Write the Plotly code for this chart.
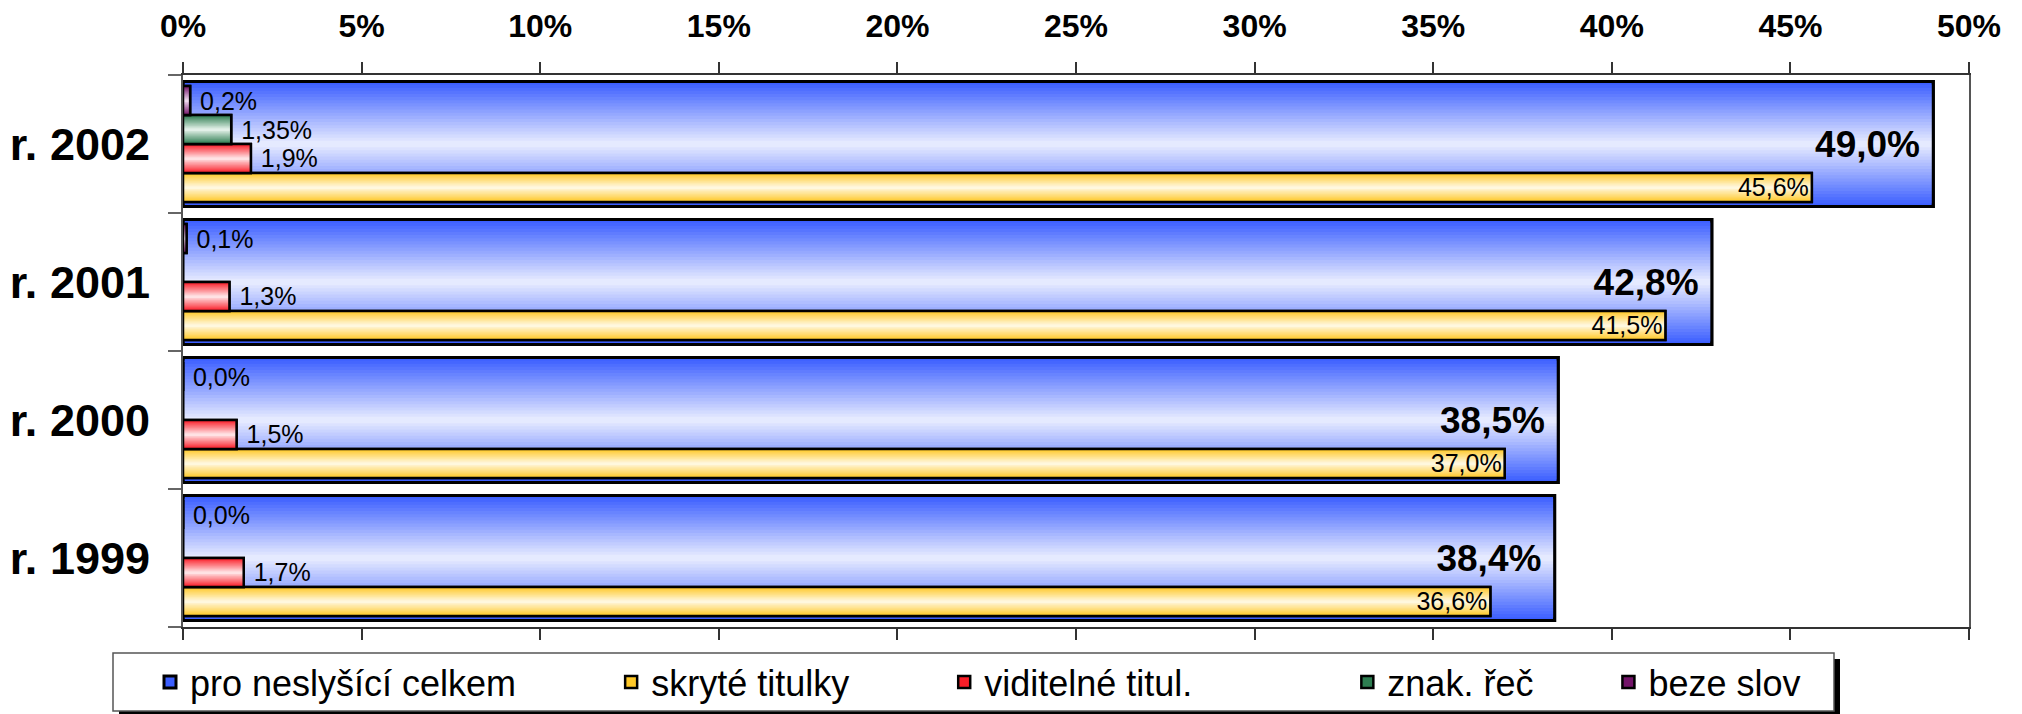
import plotly.graph_objects as go

# data (percent of broadcast time), top to bottom as in the chart
years = ["r. 2002", "r. 2001", "r. 2000", "r. 1999"]
celkem = [49.0, 42.8, 38.5, 38.4]        # pro neslyšící celkem
skryte = [45.6, 41.5, 37.0, 36.6]        # skryté titulky
viditelne = [1.9, 1.3, 1.5, 1.7]         # viditelné titul.
znak = [1.35, None, None, None]          # znak. řeč
beze = [0.2, 0.1, 0.0, 0.0]              # beze slov
x_ticks = [0, 5, 10, 15, 20, 25, 30, 35, 40, 45, 50]
x_labels = [f"{t}%" for t in x_ticks]

FONT = "Arial, Liberation Sans, sans-serif"
W, H = 2022, 714
L, R, T, B = 183, 53, 75, 87
PW, PH = W - L - R, H - T - B
NB = "\u00a0"


def pct(v):
    if v is None:
        return ""
    s = f"{v:.2f}"
    if s.endswith("0"):
        s = s[:-1]
    return s.replace(".", ",") + "%"


def mix(c1, c2, t):
    return "rgb(%d,%d,%d)" % tuple(round(a + (b - a) * t) for a, b in zip(c1, c2))


def px_x(p):
    return (p - L) / PW


def px_y(p):
    return (H - B - p) / PH


small_font = dict(family=FONT, size=25, color="black")

# name, values, edge colour, centre colour, offset, width, line width,
# text position, font, label prefix/suffix
series = [
    ("pro neslyšící celkem", celkem, (60, 95, 255), (238, 241, 255), -0.453, 0.906, 3,
     "inside", dict(family=FONT, size=37, color="black", weight="bold"), ("", NB)),
    ("skryté titulky", skryte, (255, 200, 40), (255, 250, 232), -0.42, 0.21, 2.5,
     "inside", small_font, ("", "")),
    ("viditelné titul.", viditelne, (250, 30, 40), (255, 236, 238), -0.21, 0.21, 2.5,
     "outside", small_font, (NB, "")),
    ("znak. řeč", znak, (45, 125, 80), (236, 246, 240), 0.0, 0.21, 2.5,
     "outside", small_font, (NB, "")),
    ("beze slov", beze, (115, 20, 105), (246, 228, 246), 0.21, 0.21, 2.5,
     "outside", small_font, (NB, "")),
]

# extra spacing after legend names to spread entries like the original
pads = [9, 9, 15, 7, 0]

N = 20
fig = go.Figure()
for rank, (spec, pad) in enumerate(zip(series, pads)):
    name, vals, edge, centre, off, w, lw, tpos, tfont, (pre, post) = spec
    # base bar: edge colour + outline, carries the legend entry
    fig.add_trace(go.Bar(
        y=years, x=vals, orientation="h", width=w, offset=off,
        marker=dict(color=mix(edge, edge, 0), line=dict(color="black", width=lw)),
        name=name + NB * pad, legendrank=rank + 1, hoverinfo="skip",
    ))
    # gradient bands, lighter towards the middle of the bar
    for k in range(1, N):
        f = 1 - k / N
        fig.add_trace(go.Bar(
            y=years, x=vals, orientation="h", width=w * f, offset=off + w * (1 - f) / 2,
            marker=dict(color=mix(centre, edge, f), line=dict(width=0)),
            showlegend=False, hoverinfo="skip",
        ))
    # outline on top with the value labels
    fig.add_trace(go.Bar(
        y=years, x=vals, orientation="h", width=w, offset=off,
        marker=dict(color="rgba(0,0,0,0)", line=dict(color="black", width=lw)),
        text=[pre + pct(v) + post if v is not None else "" for v in vals],
        textposition=tpos, insidetextanchor="end",
        textfont=tfont, insidetextfont=tfont, outsidetextfont=tfont,
        constraintext="none", cliponaxis=False,
        showlegend=False, hoverinfo="skip",
    ))

# legend frame with shadow
fig.add_shape(type="rect", xref="paper", yref="paper",
              x0=px_x(119), x1=px_x(1840), y0=px_y(717), y1=px_y(659),
              fillcolor="black", line=dict(width=0), layer="above")
fig.add_shape(type="rect", xref="paper", yref="paper",
              x0=px_x(113), x1=px_x(1834), y0=px_y(711), y1=px_y(653),
              fillcolor="white", line=dict(color="#555555", width=1.5), layer="above")

fig.update_layout(
    width=W, height=H,
    margin=dict(l=L, r=R, t=T, b=B, autoexpand=False),
    paper_bgcolor="white", plot_bgcolor="white",
    barmode="overlay",
    font=dict(family=FONT, color="black"),
    showlegend=True,
    legend=dict(
        orientation="h", x=px_x(150), y=px_y(682), xanchor="left", yanchor="middle",
        bgcolor="rgba(0,0,0,0)", borderwidth=0,
        font=dict(family=FONT, size=36, color="black"),
        traceorder="normal",
    ),
    xaxis=dict(
        range=[0, 50], tickmode="array", tickvals=x_ticks, ticktext=x_labels, side="top",
        ticks="outside", ticklen=11, tickwidth=1.5, tickcolor="#333333",
        showline=True, linecolor="#333333", linewidth=2, mirror="allticks",
        showgrid=False, zeroline=False, ticklabelstandoff=12,
        tickfont=dict(family=FONT, size=32, color="black", weight="bold"),
    ),
    yaxis=dict(
        type="category", categoryorder="array", categoryarray=list(reversed(years)),
        range=[-0.5, 3.5], tickson="boundaries",
        ticks="outside", ticklen=13, tickwidth=1.5, tickcolor="#666666",
        showline=True, linecolor="#555555", linewidth=2, mirror=True,
        showgrid=False, zeroline=False, ticklabelstandoff=22,
        tickfont=dict(family=FONT, size=45, color="black", weight="bold"),
    ),
)

fig.write_html(
    "out.html",
    config={"displayModeBar": False},
    post_script="document.body.style.margin='0';document.body.style.overflow='hidden';",
)
